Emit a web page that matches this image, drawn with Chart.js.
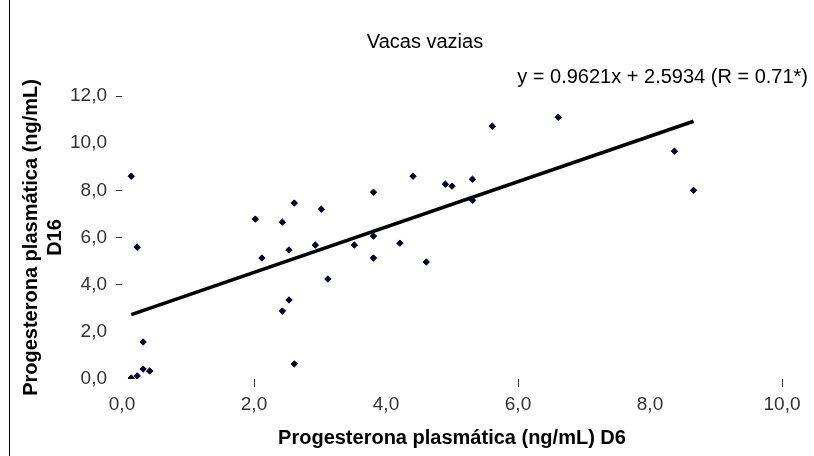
<!DOCTYPE html>
<html>
<head>
<meta charset="utf-8">
<script src="https://cdn.jsdelivr.net/npm/chart.js@4/dist/chart.umd.min.js"></script>
<style>
    html, body { margin: 0; padding: 0; background: #fff; }
    #wrap { position: relative; width: 814px; height: 456px; }
    #edge { position: absolute; left: 9px; top: 0; width: 1px; height: 456px; background: #000; }
</style>
</head>
<body>
<div id="wrap">
    <canvas id="chart-vacas" width="814" height="456"></canvas>
    <div id="edge"></div>
</div>
<script>
// P4 D6 (x) vs P4 D16 (y)
const xVals = [0.14, 0.23, 0.32, 0.42, 0.32, 0.23, 0.14, 2.02, 2.12, 2.43, 2.43, 2.53, 2.53, 2.61, 2.61, 2.93, 3.02,
    3.12, 3.52, 3.81, 3.81, 3.81, 4.21, 4.41, 4.61, 4.90, 5.00, 5.31, 5.31, 5.61, 6.61, 8.37, 8.66];
const yVals = [0.04, 0.13, 0.42, 0.34, 1.57, 5.59, 8.60, 6.78, 5.13, 6.65, 2.88, 3.35, 5.47, 7.46, 0.64, 5.68, 7.20,
    4.24, 5.68, 6.06, 7.92, 5.13, 5.76, 8.60, 4.96, 8.26, 8.18, 8.47, 7.58, 10.72, 11.10, 9.66, 8.00];

// regression line ends: y = 0.9621x + 2.5934
const trendX = [0.14, 8.66];
const trendY = [2.73, 10.93];

const TITLE = 'Vacas vazias';
const EQUATION = 'y = 0.9621x + 2.5934 (R = 0.71*)';
const X_TITLE = 'Progesterona plasmática (ng/mL) D6';
const Y_TITLE = ['Progesterona plasmática (ng/mL)', 'D16'];

// only some tick dashes survive in the scan
const xDashTicks = [2, 6, 10];
const yDashTicks = [12, 8, 6, 4];

const FONT = "'Liberation Sans', Arial, sans-serif";
const fmt = v => v.toFixed(1).replace('.', ',');

new Chart(document.getElementById('chart-vacas'), {
    type: 'scatter',
    data: {
        datasets: [
            {
                label: 'P4',
                data: xVals.map((x, i) => ({ x, y: yVals[i] })),
                pointStyle: 'rectRot',
                pointRadius: 3.2,
                backgroundColor: '#000048',
                borderColor: '#000',
                borderWidth: 1
            },
            {
                label: 'Linear',
                type: 'line',
                data: trendX.map((x, i) => ({ x, y: trendY[i] })),
                borderColor: '#000',
                borderWidth: 3.5,
                pointRadius: 0,
                fill: false
            }
        ]
    },
    options: {
        responsive: false,
        animation: false,
        layout: { padding: { left: 42, right: 6, top: 0, bottom: 0 } },
        plugins: {
            legend: { display: false },
            tooltip: { enabled: false },
            title: {
                display: true,
                text: TITLE,
                color: '#000',
                font: { family: FONT, size: 20, weight: 'normal' },
                padding: { top: 30, bottom: 5 }
            },
            subtitle: {
                display: true,
                text: EQUATION,
                align: 'end',
                color: '#000',
                font: { family: FONT, size: 20, weight: 'normal' },
                padding: { top: 6, bottom: 7 }
            }
        },
        scales: {
            x: {
                type: 'linear',
                min: 0,
                max: 10,
                border: { display: false },
                grid: {
                    drawOnChartArea: false,
                    tickLength: 8,
                    tickColor: c => xDashTicks.includes(c.tick && c.tick.value) ? '#333' : 'rgba(0,0,0,0)'
                },
                ticks: {
                    stepSize: 2,
                    padding: 6,
                    color: '#333',
                    font: { family: FONT, size: 19 },
                    callback: v => fmt(v)
                },
                title: {
                    display: true,
                    text: X_TITLE,
                    color: '#000',
                    font: { family: FONT, size: 20, weight: 'bold' },
                    padding: { top: 4, bottom: 6 }
                },
                afterFit: s => { s.height = 77; }
            },
            y: {
                type: 'linear',
                min: 0,
                max: 12,
                border: { display: false },
                grid: {
                    drawOnChartArea: false,
                    tickLength: 6,
                    tickColor: c => yDashTicks.includes(c.tick && c.tick.value) ? '#333' : 'rgba(0,0,0,0)'
                },
                ticks: {
                    stepSize: 2,
                    padding: 9,
                    color: '#333',
                    font: { family: FONT, size: 19 },
                    callback: v => fmt(v)
                },
                title: {
                    display: true,
                    text: Y_TITLE,
                    color: '#000',
                    font: { family: FONT, size: 20, weight: 'bold' },
                    padding: { top: -23, bottom: 0 }
                },
                afterFit: s => { s.width = 80; }
            },
            yRight: {
                position: 'right',
                display: true,
                border: { display: false },
                grid: { display: false },
                ticks: { display: false },
                afterFit: s => { s.width = 26; }
            }
        }
    }
});
</script>
</body>
</html>
